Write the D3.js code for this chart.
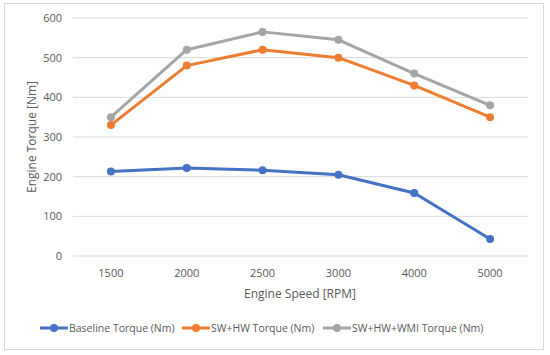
<!DOCTYPE html>
<html><head><meta charset="utf-8">
<script src="https://cdn.jsdelivr.net/npm/d3@7"></script>
<style>body{margin:0;background:#fff;}svg{display:block;font-family:"Open Sans",sans-serif;}</style>
</head><body>
<svg id="c" width="550" height="355"></svg>
<script>
const categories = ["1500","2000","2500","3000","4000","5000"];
const baseline = [213, 222, 216, 205, 159, 43];
const swhw = [330, 480, 520, 500, 430, 350];
const swhwwmi = [350, 520, 565, 545, 460, 380];
const yTicks = [0,100,200,300,400,500,600];
const seriesNames = ["Baseline Torque (Nm)","SW+HW Torque (Nm)","SW+HW+WMI Torque (Nm)"];
const colors = ["#4472C4","#ED7D31","#A5A5A5"];
const series = [baseline, swhw, swhwwmi];

const svg = d3.select("#c");
svg.append("rect").attr("x",4.5).attr("y",3.5).attr("width",539).attr("height",346)
  .attr("fill","#fff").attr("stroke","#D9D9D9");

const x = d3.scaleBand().domain(categories).range([73,528]);
const y = d3.scaleLinear().domain([0,600]).range([256,18]);

// gridlines
svg.append("g").selectAll("line").data(yTicks).join("line")
  .attr("x1",73).attr("x2",528).attr("y1",d=>y(d)).attr("y2",d=>y(d))
  .attr("stroke","#D9D9D9").attr("stroke-width",1);

// y tick labels
svg.append("g").selectAll("text").data(yTicks).join("text")
  .attr("x",62).attr("y",d=>y(d)+4).attr("text-anchor","end")
  .attr("font-size",11).attr("fill","#595959").text(d=>d);

// x tick labels
svg.append("g").selectAll("text").data(categories).join("text")
  .attr("x",d=>x(d)+x.bandwidth()/2).attr("y",277).attr("text-anchor","middle")
  .attr("font-size",11).attr("fill","#595959").text(d=>d);

// axis titles
svg.append("text").attr("x",300).attr("y",298).attr("text-anchor","middle")
  .attr("font-size",12).attr("fill","#595959").text("Engine Speed [RPM]");
svg.append("text").attr("transform","translate(36,137) rotate(-90)").attr("text-anchor","middle")
  .attr("font-size",12).attr("fill","#595959").text("Engine Torque [Nm]");

const line = d3.line().x((d,i)=>x(categories[i])+x.bandwidth()/2).y(d=>y(d));
series.forEach((s,k)=>{
  const g = svg.append("g");
  g.append("path").attr("d",line(s)).attr("fill","none").attr("stroke",colors[k])
    .attr("stroke-width",3).attr("stroke-linejoin","round").attr("stroke-linecap","round");
  g.selectAll("circle").data(s).join("circle")
    .attr("cx",(d,i)=>x(categories[i])+x.bandwidth()/2).attr("cy",d=>y(d)).attr("r",4)
    .attr("fill",colors[k]);
});

// legend
const legX = [40,182,323];
const lg = svg.append("g");
seriesNames.forEach((n,k)=>{
  const gx = legX[k];
  lg.append("line").attr("x1",gx).attr("x2",gx+28).attr("y1",328).attr("y2",328)
    .attr("stroke",colors[k]).attr("stroke-width",3);
  lg.append("circle").attr("cx",gx+14).attr("cy",328).attr("r",4).attr("fill",colors[k]);
  lg.append("text").attr("x",gx+29).attr("y",332).attr("font-size",10.5).attr("fill","#595959").text(n);
});
</script>
</body></html>
